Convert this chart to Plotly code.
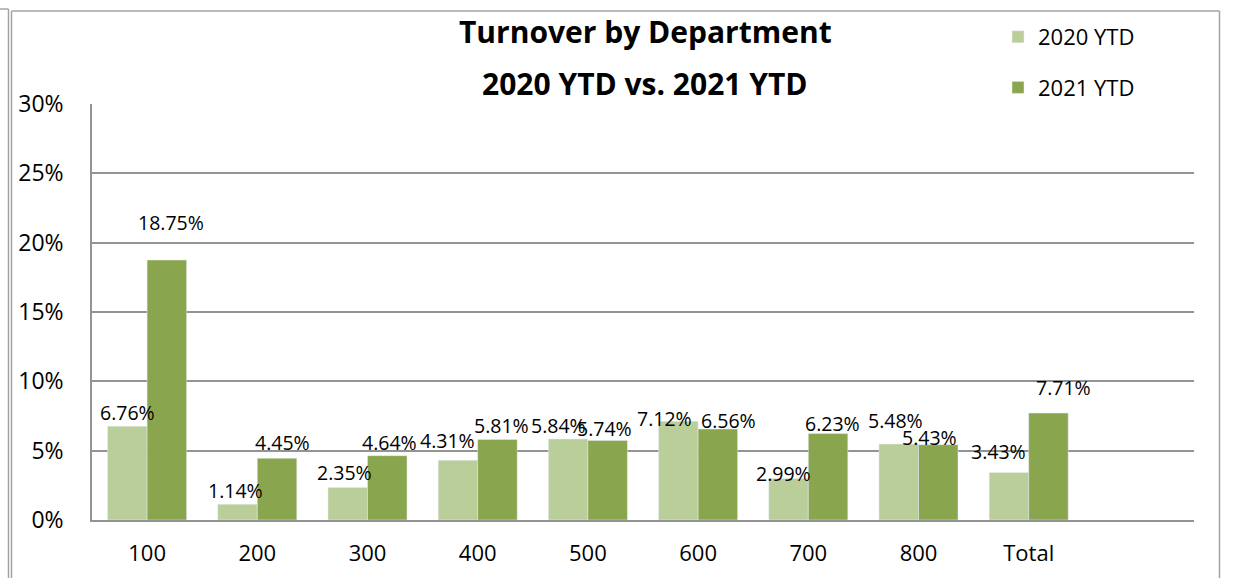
import plotly.graph_objects as go

# Turnover rate (%) per department
departments = ["100", "200", "300", "400", "500", "600", "700", "800", "Total"]
ytd_2020 = [6.76, 1.14, 2.35, 4.31, 5.84, 7.12, 2.99, 5.48, 3.43]
ytd_2021 = [18.75, 4.45, 4.64, 5.81, 5.74, 6.56, 6.23, 5.43, 7.71]
y_ticks = [0, 5, 10, 15, 20, 25, 30]
y_tick_labels = [f"{t}%" for t in y_ticks]

# label nudges in pixels (dx, dy above bar top)
nudge_2020 = [(0, 14), (-2, 14), (-3, 15), (-10, 20), (-10, 14), (-14, 3), (-5, 5), (-3, 24), (-10, 21)]
nudge_2021 = [(4, 38), (5, 16), (2, 13), (4, 14), (-3, 12), (11, 9), (4, 10), (-9, 7), (15, 26)]

C_LIGHT = "#BACE99"
C_DARK = "#89A54E"
GRID = "#939393"
FONT = "Open Sans"

W, H = 1236, 578
ML, MR, MT, MB = 92, 42, 104, 58
PW, PH = W - ML - MR, H - MT - MB


def px_x(px):
    return (px - ML) / PW


def px_y(py):
    return (H - MB - py) / PH


idx = list(range(len(departments)))
fig = go.Figure()
fig.add_trace(go.Bar(x=idx, y=ytd_2020, name="2020 YTD", marker_color=C_LIGHT,
                     legendgroup="a"))
fig.add_trace(go.Bar(x=idx, y=ytd_2021, name="2021 YTD", marker_color=C_DARK,
                     legendgroup="b"))

bargap = 0.283
half = (1 - bargap) / 4  # centre offset of each bar within its group
annotations = []
for vals, nudges, sign in ((ytd_2020, nudge_2020, -1), (ytd_2021, nudge_2021, 1)):
    for i, (v, (dx, dy)) in enumerate(zip(vals, nudges)):
        annotations.append(dict(
            x=i + sign * half, y=v, xref="x", yref="y",
            text=f"{v:.2f}%", showarrow=False,
            xanchor="center", yanchor="middle",
            xshift=dx, yshift=dy,
            font=dict(family=FONT, size=19.5, color="#000000"),
        ))

annotations.append(dict(x=px_x(645), y=px_y(31), xref="paper", yref="paper",
                        text="<b>Turnover by Department</b>", showarrow=False,
                        xanchor="center", yanchor="middle",
                        font=dict(family=FONT, size=30, color="#000000")))
annotations.append(dict(x=px_x(645), y=px_y(84), xref="paper", yref="paper",
                        text="<b>2020 YTD vs. 2021 YTD</b>", showarrow=False,
                        xanchor="center", yanchor="middle",
                        font=dict(family=FONT, size=30, color="#000000")))

border = "#a3a3a3"
shapes = [
    dict(type="line", xref="paper", yref="paper", x0=px_x(11.5), x1=px_x(11.5),
         y0=px_y(11), y1=px_y(H + 2), line=dict(color=border, width=1.5)),
    dict(type="line", xref="paper", yref="paper", x0=px_x(11.5), x1=px_x(1219.5),
         y0=px_y(11), y1=px_y(11), line=dict(color=border, width=1.5)),
    dict(type="line", xref="paper", yref="paper", x0=px_x(1219.5), x1=px_x(1219.5),
         y0=px_y(11), y1=px_y(H + 2), line=dict(color=border, width=1.5)),
    dict(type="line", xref="paper", yref="paper", x0=px_x(8.5), x1=px_x(8.5),
         y0=px_y(9), y1=px_y(H + 2), line=dict(color=border, width=1.5)),
    dict(type="line", xref="paper", yref="paper", x0=px_x(-2), x1=px_x(8.5),
         y0=px_y(9), y1=px_y(9), line=dict(color=border, width=1.5)),
]

fig.update_layout(
    width=W, height=H,
    margin=dict(l=ML, r=MR, t=MT, b=MB, autoexpand=False),
    paper_bgcolor="white", plot_bgcolor="white",
    barmode="group", bargap=bargap, bargroupgap=0,
    font=dict(family=FONT, color="#000000"),
    showlegend=True,
    legend=dict(x=px_x(998), y=px_y(16), xanchor="left", yanchor="top",
                font=dict(family=FONT, size=22), tracegroupgap=19,
                bgcolor="rgba(0,0,0,0)"),
    annotations=annotations,
    shapes=shapes,
)
fig.update_xaxes(range=[-0.5, 9.5], tickvals=idx, ticktext=departments,
                 showgrid=False, showline=True, linecolor=GRID, linewidth=1.6,
                 ticks="", ticklabelstandoff=13, automargin=False,
                 tickfont=dict(family=FONT, size=22), zeroline=False)
fig.update_yaxes(range=[0, 30], tickvals=y_ticks, ticktext=y_tick_labels,
                 showgrid=True, gridcolor=GRID, gridwidth=1.6,
                 showline=True, linecolor=GRID, linewidth=1.6,
                 ticks="", ticklabelstandoff=22, automargin=False,
                 tickfont=dict(family=FONT, size=23), zeroline=False)

fig.write_html("out.html")
